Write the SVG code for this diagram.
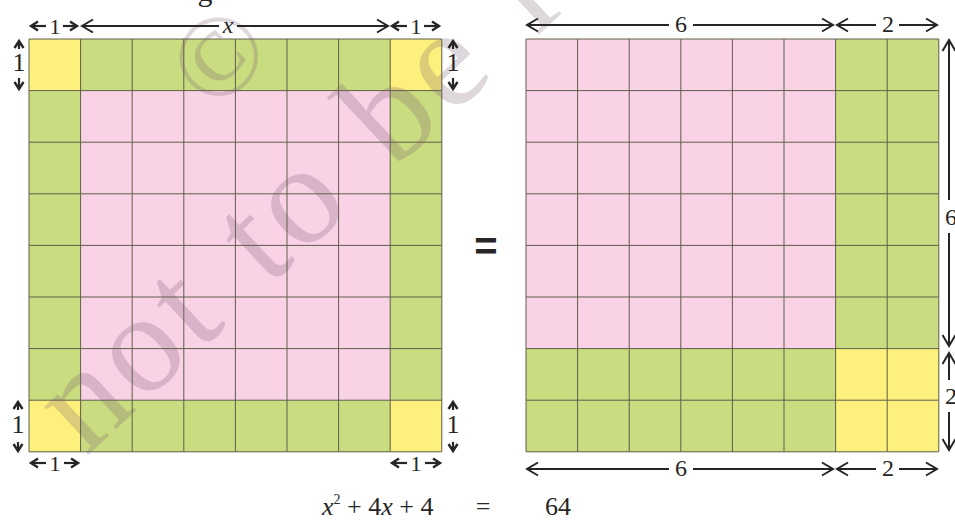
<svg xmlns="http://www.w3.org/2000/svg" width="955" height="520" viewBox="0 0 955 520">
<style>
.bg{fill:#ffffff}
.g{fill:#c9dc80}
.p{fill:#f9d2e6}
.y{fill:#fdf07c}
.grid{fill:none;stroke:#5f5f4a;stroke-width:1}
.dim{fill:none;stroke:#262626;stroke-width:2}
.sdim{fill:none;stroke:#262626;stroke-width:2.2}
.lbl{font-family:"Liberation Serif","Times New Roman",serif;font-size:22px;fill:#262626;text-anchor:middle}
.vl{font-family:"Liberation Serif","Times New Roman",serif;font-size:26px;fill:#262626;text-anchor:middle}
.it{font-style:italic}
.eq{font-family:"Liberation Serif","Times New Roman",serif;font-size:26px;fill:#262626}
.bigeq{font-family:"Liberation Sans",Arial,sans-serif;font-weight:bold;font-size:40px;fill:#262626;text-anchor:middle}
.wm{font-family:"Liberation Serif","Times New Roman",serif;font-size:142px;fill:#785a6e;opacity:0.24}
</style>
<defs>
<marker id="ah" markerUnits="userSpaceOnUse" orient="auto-start-reverse" overflow="visible" markerWidth="1" markerHeight="1">
<path d="M-11,-6.5 L0,0 L-11,6.5" fill="none" stroke="#262626" stroke-width="2"/>
</marker>
<marker id="sh" markerUnits="userSpaceOnUse" orient="auto-start-reverse" overflow="visible" markerWidth="1" markerHeight="1">
<path d="M-7,-4.5 L0,0 L-7,4.5" fill="none" stroke="#262626" stroke-width="2.4"/>
</marker>
</defs>
<rect class="bg" x="0" y="0" width="955" height="520"/>

<text class="lbl" x="205" y="1" style="font-size:30px">g</text>

<g id="left-square">
<rect class="g" x="29" y="39" width="412.8" height="412.8"/>
<rect class="p" x="80.6" y="90.6" width="309.6" height="309.6"/>
<rect class="y" x="29" y="39" width="51.6" height="51.6"/>
<rect class="y" x="390.2" y="39" width="51.6" height="51.6"/>
<rect class="y" x="29" y="400.2" width="51.6" height="51.6"/>
<rect class="y" x="390.2" y="400.2" width="51.6" height="51.6"/>
<path class="grid" d="M29,39V451.8M80.6,39V451.8M132.2,39V451.8M183.8,39V451.8M235.4,39V451.8M287,39V451.8M338.6,39V451.8M390.2,39V451.8M441.8,39V451.8M29,39H441.8M29,90.6H441.8M29,142.2H441.8M29,193.8H441.8M29,245.4H441.8M29,297H441.8M29,348.6H441.8M29,400.2H441.8M29,451.8H441.8"/>
</g>

<g id="right-square">
<rect class="g" x="526" y="39" width="412.8" height="412.8"/>
<rect class="p" x="526" y="39" width="309.6" height="309.6"/>
<rect class="y" x="835.6" y="348.6" width="103.2" height="103.2"/>
<path class="grid" d="M526,39V451.8M577.6,39V451.8M629.2,39V451.8M680.8,39V451.8M732.4,39V451.8M784,39V451.8M835.6,39V451.8M887.2,39V451.8M938.8,39V451.8M526,39H938.8M526,90.6H938.8M526,142.2H938.8M526,193.8H938.8M526,245.4H938.8M526,297H938.8M526,348.6H938.8M526,400.2H938.8M526,451.8H938.8"/>
</g>

<g id="watermark">
<text class="wm" transform="translate(216,54) rotate(-45)" x="0" y="42" style="font-size:116px;text-anchor:middle">©</text>
<text class="wm" transform="translate(86,457) rotate(-43)" x="0" y="0" style="letter-spacing:6px;word-spacing:8px">not to be republished</text>
</g>

<g id="connectors">
<path class="sdim" d="M46,26H31" marker-end="url(#sh)"/>
<path class="sdim" d="M63,26H77" marker-end="url(#sh)"/>
<path class="dim" d="M219,26H82" marker-end="url(#ah)"/>
<path class="dim" d="M237,26H388" marker-end="url(#ah)"/>
<path class="sdim" d="M407,26H392" marker-end="url(#sh)"/>
<path class="sdim" d="M424,26H439" marker-end="url(#sh)"/>
<path class="sdim" d="M46,463H31" marker-end="url(#sh)"/>
<path class="sdim" d="M64,463H78" marker-end="url(#sh)"/>
<path class="sdim" d="M407,463H392" marker-end="url(#sh)"/>
<path class="sdim" d="M425,463H440" marker-end="url(#sh)"/>
<path class="sdim" d="M19,49V41" marker-end="url(#sh)"/>
<path class="sdim" d="M19,78V89" marker-end="url(#sh)"/>
<path class="sdim" d="M453,49V41" marker-end="url(#sh)"/>
<path class="sdim" d="M453,78V89" marker-end="url(#sh)"/>
<path class="sdim" d="M18,410V402" marker-end="url(#sh)"/>
<path class="sdim" d="M18,442V451" marker-end="url(#sh)"/>
<path class="sdim" d="M453,410V402" marker-end="url(#sh)"/>
<path class="sdim" d="M453,442V451" marker-end="url(#sh)"/>
<path class="dim" d="M669,25H527" marker-end="url(#ah)"/>
<path class="dim" d="M693,25H833" marker-end="url(#ah)"/>
<path class="dim" d="M876,25H837" marker-end="url(#ah)"/>
<path class="dim" d="M899,25H937" marker-end="url(#ah)"/>
<path class="dim" d="M669,469H527" marker-end="url(#ah)"/>
<path class="dim" d="M693,469H833" marker-end="url(#ah)"/>
<path class="dim" d="M876,469H837" marker-end="url(#ah)"/>
<path class="dim" d="M899,469H937" marker-end="url(#ah)"/>
<path class="dim" d="M949,200V40" marker-end="url(#ah)"/>
<path class="dim" d="M949,233V346" marker-end="url(#ah)"/>
<path class="dim" d="M949,380V353" marker-end="url(#ah)"/>
<path class="dim" d="M949,412V450" marker-end="url(#ah)"/>
</g>

<g id="labels">
<text class="lbl" x="55" y="34">1</text>
<text class="lbl it" x="228" y="33" style="font-size:24px">x</text>
<text class="lbl" x="416" y="34">1</text>
<text class="lbl" x="55" y="471">1</text>
<text class="lbl" x="416" y="471">1</text>
<text class="vl" x="19" y="71">1</text>
<text class="vl" x="453" y="71">1</text>
<text class="vl" x="18" y="433">1</text>
<text class="vl" x="453" y="433">1</text>
<text class="lbl" x="681" y="32" style="font-size:24px">6</text>
<text class="lbl" x="888" y="32" style="font-size:24px">2</text>
<text class="lbl" x="681" y="476" style="font-size:24px">6</text>
<text class="lbl" x="888" y="476" style="font-size:24px">2</text>
<text class="lbl" x="951" y="225" style="font-size:24px">6</text>
<text class="lbl" x="951" y="404" style="font-size:24px">2</text>
</g>

<text class="bigeq" x="486" y="260">=</text>

<g id="equation">
<text class="eq" x="322" y="515"><tspan class="it">x</tspan><tspan dy="-11" font-size="14">2</tspan><tspan dy="11"> + 4</tspan><tspan class="it">x</tspan><tspan> + 4</tspan></text>
<text class="eq" x="483" y="515" text-anchor="middle">=</text>
<text class="eq" x="545" y="515">64</text>
</g>
</svg>
